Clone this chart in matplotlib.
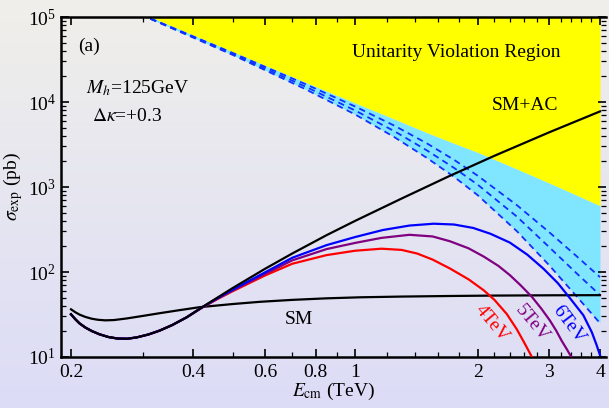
import numpy as np
import matplotlib
matplotlib.use('Agg')
import matplotlib.pyplot as plt
from matplotlib.ticker import FixedLocator, NullFormatter

plt.rcParams['font.family'] = ['Liberation Serif', 'DejaVu Serif']
plt.rcParams['mathtext.fontset'] = 'stix'

# energies (TeV) and cross sections (pb)
E_sm = [0.2, 0.205, 0.21, 0.217, 0.225, 0.233, 0.243, 0.255, 0.274, 0.3, 0.331, 0.37, 0.415,
        0.5, 0.583, 0.7, 0.85, 1.03, 1.3, 1.7, 2.2, 3.0, 4.0]
sig_sm = [36.4, 33.6, 31.5, 29.6, 28.2, 27.4, 27.0, 27.2, 28.4, 30.4, 32.8, 35.6, 38.6,
          42.0, 44.6, 47.0, 49.0, 50.4, 51.4, 52.2, 52.8, 53.2, 53.4]

# common low-energy part of SM+AC and the form-factor curves
E_low = [0.2, 0.205, 0.21, 0.217, 0.225, 0.235, 0.247, 0.26, 0.275, 0.29, 0.31, 0.33, 0.355, 0.385]
sig_low = [31.8, 27.8, 24.8, 22.2, 20.2, 18.5, 17.2, 16.5, 16.4, 17.0, 18.4, 20.4, 23.8, 29.3]

E_ac = E_low + [0.42, 0.46, 0.5, 0.6, 0.7, 0.85, 1.0, 1.3, 1.7, 2.2, 3.0, 4.0]
sig_ac = sig_low + [38.5, 50.5, 64.9, 109, 165, 271, 400, 731, 1338, 2330, 4400, 7750]

E_4tev = E_low + [0.42, 0.46, 0.5, 0.6, 0.7, 0.85, 1.0, 1.16, 1.3, 1.42, 1.55, 1.71, 1.9,
                  2.07, 2.2, 2.36, 2.5, 2.62, 2.72]
sig_4tev = sig_low + [38.0, 48.5, 59.5, 91, 125, 158, 178, 188, 182, 165, 140, 110, 82,
                      61, 47, 32, 21, 14, 10]

E_5tev = E_low + [0.42, 0.46, 0.5, 0.6, 0.7, 0.85, 1.0, 1.16, 1.36, 1.55, 1.71, 1.9, 2.07,
                  2.25, 2.4, 2.55, 2.72, 2.87, 3.01, 3.12, 3.22, 3.32, 3.4]
sig_5tev = sig_low + [38.2, 49.0, 61.0, 95, 137, 186, 220, 252, 274, 262, 230, 190, 152,
                      118, 92, 70, 51, 37, 27, 20.5, 15.5, 12.2, 10]

E_6tev = E_low + [0.42, 0.46, 0.5, 0.6, 0.7, 0.85, 1.0, 1.17, 1.36, 1.56, 1.75, 1.95, 2.15,
                  2.4, 2.65, 2.9, 3.15, 3.4, 3.64, 3.82, 3.92, 4.0]
sig_6tev = sig_low + [38.3, 49.8, 62.0, 99, 147, 207, 258, 312, 352, 370, 362, 330, 282,
                      222, 160, 110, 74, 47, 31, 19.5, 14, 10.5]

# unitarity bounds
E_ub = [0.28, 0.5, 0.75, 1.0, 1.25, 1.5, 1.75, 2.0, 2.5, 3.0, 3.5, 4.0]
sig_yellow = [125400, 38800, 17200, 9700, 6250, 4350, 3250, 2550, 1620, 1110, 800, 600]
sig_ub1 = [120500, 37760, 16440, 8850, 5250, 3266, 2089, 1361, 610, 294, 154, 87]
sig_ub2 = [120500, 36700, 15380, 7940, 4520, 2700, 1680, 1067, 447, 196, 97, 53.5]
sig_ub3 = [120500, 35770, 14350, 7130, 3846, 2203, 1318, 803, 301, 120, 52, 25]

x_major = [0.2, 0.4, 0.6, 0.8, 1, 2, 3, 4]
x_major_labels = ['0.2', '0.4', '0.6', '0.8', '1', '2', '3', '4']
x_minor = [0.3, 0.5, 0.7, 0.9, 1.2, 1.4, 1.6, 1.8, 2.2, 2.4, 2.6, 2.8, 3.2, 3.4, 3.6, 3.8]

fig = plt.figure(figsize=(6.09, 4.08), dpi=100)

# gradient background
bg = fig.add_axes([0, 0, 1, 1], zorder=-10)
top = np.array([240, 239, 234]) / 255
bot = np.array([220, 220, 247]) / 255
t = np.linspace(0, 1, 256)[:, None]
grad = (top[None, :] * (1 - t) + bot[None, :] * t)[:, None, :]
bg.imshow(grad, aspect='auto', extent=[0, 1, 0, 1])
bg.axis('off')

ax = fig.add_axes([0.1002, 0.125, 0.895, 0.8333])
ax.patch.set_alpha(0)
ax.set_xscale('log')
ax.set_yscale('log')

ax.fill_between(E_ub, sig_yellow, 1e6, color='#FFFF00', lw=0, zorder=1)
ax.fill_between(E_ub, sig_ub3, sig_yellow, color='#80E6FF', lw=0, zorder=1)

for s in [sig_ub1, sig_ub2, sig_ub3]:
    ax.plot(E_ub, s, color='#1030FF', lw=1.3, linestyle=(0, (3.5, 2.5)), zorder=2)

ax.plot(E_sm, sig_sm, color='black', lw=1.6, zorder=3)
ax.plot(E_4tev, sig_4tev, color='#FF0000', lw=1.6, zorder=3)
ax.plot(E_5tev, sig_5tev, color='#800080', lw=1.6, zorder=3)
ax.plot(E_6tev, sig_6tev, color='#0000FF', lw=1.6, zorder=4)
ax.plot(E_ac, sig_ac, color='black', lw=1.6, zorder=5)

ax.set_xlim(0.189, 4.14)
ax.set_ylim(10, 1e5)

ax.xaxis.set_major_locator(FixedLocator(x_major))
ax.set_xticklabels(x_major_labels)
ax.xaxis.set_minor_locator(FixedLocator(x_minor))
ax.xaxis.set_minor_formatter(NullFormatter())

ax.tick_params(which='both', direction='in', top=True, right=True, labelsize=14)
ax.tick_params(which='major', length=6, width=1.2)
ax.tick_params(which='minor', length=3.5, width=0.9)
ax.tick_params(axis='x', pad=5)
for side in ['left', 'bottom', 'top']:
    ax.spines[side].set_linewidth(1.8)
ax.spines['right'].set_visible(False)

ax.set_xlabel(r'$E_{\rm cm}$ (TeV)', fontsize=14, labelpad=0)
ax.set_ylabel(r'$\sigma_{\rm exp}$ (pb)', fontsize=14, labelpad=2)

tr = ax.transAxes
ax.text(0.0514, 0.915, '(a)', fontsize=14, ha='center', va='center', transform=tr)
ax.text(0.0459, 0.7756, r'$M_h$=125GeV', fontsize=14, ha='left', va='baseline', transform=tr)
ax.text(0.0563, 0.695, r'$\Delta\kappa$=+0.3', fontsize=14, ha='left', va='baseline', transform=tr)
ax.text(0.7248, 0.881, 'Unitarity Violation Region', fontsize=14, ha='center', va='baseline', transform=tr)
ax.text(0.790, 0.7256, 'SM+AC', fontsize=14, ha='left', va='baseline', transform=tr)
ax.text(0.4367, 0.097, 'SM', fontsize=14, ha='center', va='baseline', transform=tr)
ax.text(0.791, 0.097, '4TeV', fontsize=14, color='#FF0000', rotation=-50,
        ha='center', va='center', rotation_mode='anchor', transform=tr)
ax.text(0.8637, 0.099, '5TeV', fontsize=14, color='#800080', rotation=-50,
        ha='center', va='center', rotation_mode='anchor', transform=tr)
ax.text(0.932, 0.097, '6TeV', fontsize=14, color='#0000FF', rotation=-53,
        ha='center', va='center', rotation_mode='anchor', transform=tr)

fig.savefig('out.png', dpi=100)
